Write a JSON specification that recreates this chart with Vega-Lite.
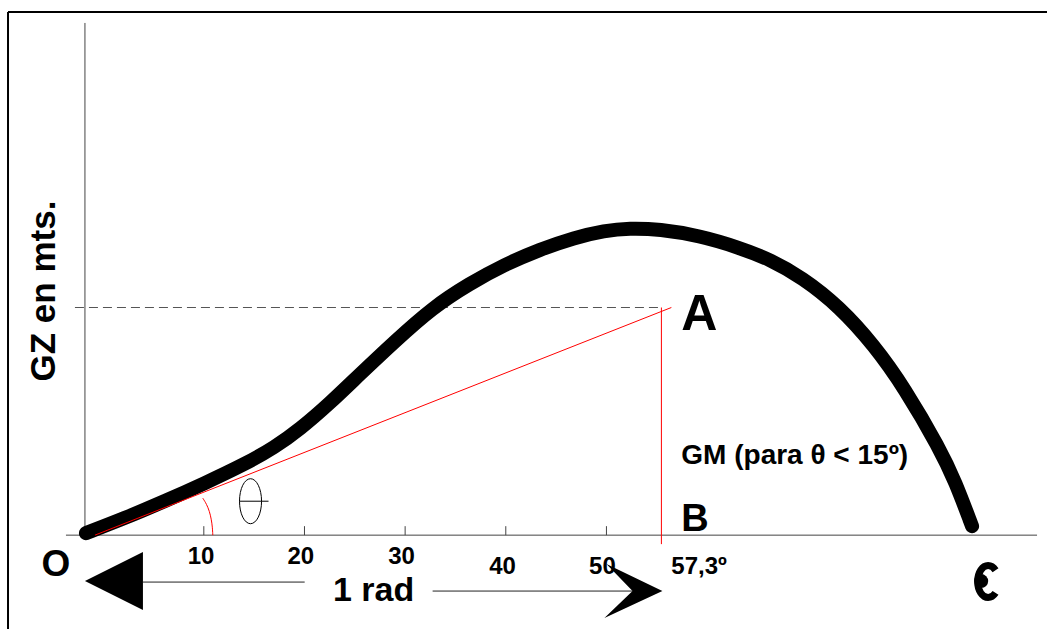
{
  "$schema": "https://vega.github.io/schema/vega-lite/v6.json",
  "width": 1048,
  "height": 630,
  "autosize": {"type": "fit", "contains": "padding"},
  "padding": 0,
  "background": "white",
  "config": {"view": {"stroke": null}, "font": "Liberation Sans"},
  "datasets": {
    "lines": [
      {"kind": "frame", "deg": -9.454, "deg2": -9.454, "gz": 2.62, "gz2": -0.47},
      {"kind": "frame", "deg": -9.454, "deg2": 93.77, "gz": 2.62, "gz2": 2.62},
      {"kind": "axis", "deg": -1.811, "deg2": -1.811, "gz": 2.565, "gz2": -0.005},
      {"kind": "axis", "deg": -3.697, "deg2": 92.78, "gz": 0, "gz2": 0},
      {"kind": "axis", "deg": 10, "deg2": 10, "gz": 0, "gz2": 0.045},
      {"kind": "axis", "deg": 20, "deg2": 20, "gz": 0, "gz2": 0.045},
      {"kind": "axis", "deg": 30, "deg2": 30, "gz": 0, "gz2": 0.045},
      {"kind": "axis", "deg": 40, "deg2": 40, "gz": 0, "gz2": 0.045},
      {"kind": "axis", "deg": 50, "deg2": 50, "gz": 0, "gz2": 0.045},
      {"kind": "red", "deg": -0.819, "deg2": 56.45, "gz": 0, "gz2": 1.14},
      {"kind": "red", "deg": 55.46, "deg2": 55.46, "gz": 1.14, "gz2": -0.045},
      {"kind": "dash", "deg": -2.804, "deg2": 55.46, "gz": 1.14, "gz2": 1.14},
      {"kind": "arrow", "deg": 3.95, "deg2": 20.02, "gz": -0.235, "gz2": -0.235},
      {"kind": "arrow", "deg": 32.73, "deg2": 53.3, "gz": -0.28, "gz2": -0.28}
    ],
    "curve": [
      {"deg": -1.712, "gz": 0.01},
      {"deg": 2.159, "gz": 0.085},
      {"deg": 6.129, "gz": 0.17},
      {"deg": 10.099, "gz": 0.26},
      {"deg": 14.07, "gz": 0.355},
      {"deg": 17.047, "gz": 0.44},
      {"deg": 19.529, "gz": 0.53},
      {"deg": 22.506, "gz": 0.66},
      {"deg": 25.484, "gz": 0.805},
      {"deg": 28.958, "gz": 0.97},
      {"deg": 32.729, "gz": 1.14},
      {"deg": 36.402, "gz": 1.26},
      {"deg": 39.876, "gz": 1.355},
      {"deg": 43.35, "gz": 1.43},
      {"deg": 46.824, "gz": 1.49},
      {"deg": 49.801, "gz": 1.525},
      {"deg": 52.283, "gz": 1.5375},
      {"deg": 55.261, "gz": 1.5325},
      {"deg": 59.231, "gz": 1.5},
      {"deg": 63.201, "gz": 1.44},
      {"deg": 66.179, "gz": 1.3825},
      {"deg": 69.454, "gz": 1.29},
      {"deg": 73.127, "gz": 1.145},
      {"deg": 76.6, "gz": 0.95},
      {"deg": 79.578, "gz": 0.74},
      {"deg": 83.151, "gz": 0.43},
      {"deg": 84.64, "gz": 0.27},
      {"deg": 86.328, "gz": 0.045}
    ],
    "arc": [
      {"i": 0, "deg": 10.893, "gz": 0},
      {"i": 1, "deg": 10.854, "gz": 0.04},
      {"i": 2, "deg": 10.744, "gz": 0.08},
      {"i": 3, "deg": 10.556, "gz": 0.12},
      {"i": 4, "deg": 10.278, "gz": 0.155},
      {"i": 5, "deg": 9.901, "gz": 0.185}
    ],
    "labels": [
      {"kind": "tick", "t": "10", "deg": 9.73, "gz": -0.145},
      {"kind": "tick", "t": "20", "deg": 19.63, "gz": -0.145},
      {"kind": "tick", "t": "30", "deg": 29.65, "gz": -0.145},
      {"kind": "tick", "t": "40", "deg": 39.68, "gz": -0.195},
      {"kind": "tick", "t": "50", "deg": 49.6, "gz": -0.195},
      {"kind": "rad", "t": "57,3º", "deg": 56.45, "gz": -0.195},
      {"kind": "O", "t": "O", "deg": -4.69, "gz": -0.205},
      {"kind": "onerad", "t": "1 rad", "deg": 26.87, "gz": -0.33},
      {"kind": "A", "t": "A", "deg": 57.44, "gz": 1.025},
      {"kind": "B", "t": "B", "deg": 57.44, "gz": 0.02},
      {"kind": "GM", "t": "GM (para θ < 15º)", "deg": 57.44, "gz": 0.355},
      {"kind": "ytitle", "t": "GZ en mts.", "deg": -4.789, "gz": 1.2225}
    ],
    "symbols": [
      {"kind": "leftHead", "deg": 1.067, "gz": -0.23},
      {"kind": "rightHead", "deg": 52.68, "gz": -0.28},
      {"kind": "theta", "deg": 14.64, "gz": 0.17},
      {"kind": "epsC", "deg": 87.92, "gz": -0.2325},
      {"kind": "epsDot", "deg": 87.23, "gz": -0.23}
    ]
  },
  "encoding": {
    "x": {"field": "deg", "type": "quantitative", "axis": null, "scale": {"domain": [-10.25, 93.77], "nice": false, "zero": false}},
    "y": {"field": "gz", "type": "quantitative", "axis": null, "scale": {"domain": [-0.47, 2.68], "nice": false, "zero": false}}
  },
  "layer": [
    {
      "data": {"name": "lines"},
      "transform": [{"filter": "datum.kind === 'frame'"}],
      "mark": {"type": "rule", "color": "black", "strokeWidth": 2},
      "encoding": {"x2": {"field": "deg2"}, "y2": {"field": "gz2"}}
    },
    {
      "data": {"name": "lines"},
      "transform": [{"filter": "datum.kind === 'axis'"}],
      "mark": {"type": "rule", "color": "#444444", "strokeWidth": 1},
      "encoding": {"x2": {"field": "deg2"}, "y2": {"field": "gz2"}}
    },
    {
      "data": {"name": "lines"},
      "transform": [{"filter": "datum.kind === 'dash'"}],
      "mark": {"type": "rule", "color": "#555555", "strokeWidth": 1, "strokeDash": [9, 5]},
      "encoding": {"x2": {"field": "deg2"}, "y2": {"field": "gz2"}}
    },
    {
      "data": {"name": "lines"},
      "transform": [{"filter": "datum.kind === 'arrow'"}],
      "mark": {"type": "rule", "color": "#222222", "strokeWidth": 1},
      "encoding": {"x2": {"field": "deg2"}, "y2": {"field": "gz2"}}
    },
    {
      "data": {"name": "curve"},
      "mark": {"type": "line", "color": "black", "strokeWidth": 14, "strokeCap": "round", "strokeJoin": "round", "interpolate": "basis"}
    },
    {
      "data": {"name": "lines"},
      "transform": [{"filter": "datum.kind === 'red'"}],
      "mark": {"type": "rule", "color": "#ff0000", "strokeWidth": 1},
      "encoding": {"x2": {"field": "deg2"}, "y2": {"field": "gz2"}}
    },
    {
      "data": {"name": "arc"},
      "mark": {"type": "line", "color": "#ff0000", "strokeWidth": 1, "interpolate": "basis"},
      "encoding": {"order": {"field": "i", "type": "quantitative"}}
    },
    {
      "data": {"name": "symbols"},
      "transform": [{"filter": "datum.kind === 'leftHead'"}],
      "mark": {"type": "point", "shape": "M -1 0 L 1 -1 L 1 1 Z", "size": 3364, "filled": true, "color": "black", "opacity": 1, "strokeWidth": 0}
    },
    {
      "data": {"name": "symbols"},
      "transform": [{"filter": "datum.kind === 'rightHead'"}],
      "mark": {"type": "point", "shape": "M 1 0 L -0.93 -0.93 L -0.03 0 L -1 0.93 Z", "size": 3364, "filled": true, "color": "black", "opacity": 1, "strokeWidth": 0}
    },
    {
      "data": {"name": "symbols"},
      "transform": [{"filter": "datum.kind === 'theta'"}],
      "mark": {"type": "point", "shape": "M 0 -1 A 0.49 1 0 1 0 0 1 A 0.49 1 0 1 0 0 -1 M -0.49 0 L 0.8 0", "size": 2025, "filled": false, "color": "black", "opacity": 1, "strokeWidth": 1}
    },
    {
      "data": {"name": "symbols"},
      "transform": [{"filter": "datum.kind === 'epsC'"}],
      "mark": {"type": "point", "shape": "M 0.371 -0.566 A 0.525 0.8 0 1 0 0.371 0.566", "size": 1600, "filled": false, "color": "black", "opacity": 1, "strokeWidth": 7}
    },
    {
      "data": {"name": "symbols"},
      "transform": [{"filter": "datum.kind === 'epsDot'"}],
      "mark": {"type": "point", "shape": "circle", "size": 196, "filled": true, "color": "black", "opacity": 1}
    },
    {
      "data": {"name": "labels"},
      "transform": [{"filter": "datum.kind === 'tick'"}],
      "mark": {"type": "text", "fontSize": 24, "fontWeight": "bold", "align": "center", "baseline": "alphabetic", "color": "black"},
      "encoding": {"text": {"field": "t"}}
    },
    {
      "data": {"name": "labels"},
      "transform": [{"filter": "datum.kind === 'rad'"}],
      "mark": {"type": "text", "fontSize": 24, "fontWeight": "bold", "align": "left", "baseline": "alphabetic", "color": "black"},
      "encoding": {"text": {"field": "t"}}
    },
    {
      "data": {"name": "labels"},
      "transform": [{"filter": "datum.kind === 'O'"}],
      "mark": {"type": "text", "fontSize": 37, "fontWeight": "bold", "align": "center", "baseline": "alphabetic", "color": "black"},
      "encoding": {"text": {"field": "t"}}
    },
    {
      "data": {"name": "labels"},
      "transform": [{"filter": "datum.kind === 'onerad'"}],
      "mark": {"type": "text", "fontSize": 34, "fontWeight": "bold", "align": "center", "baseline": "alphabetic", "color": "black"},
      "encoding": {"text": {"field": "t"}}
    },
    {
      "data": {"name": "labels"},
      "transform": [{"filter": "datum.kind === 'A'"}],
      "mark": {"type": "text", "fontSize": 50, "fontWeight": "bold", "align": "left", "baseline": "alphabetic", "color": "black"},
      "encoding": {"text": {"field": "t"}}
    },
    {
      "data": {"name": "labels"},
      "transform": [{"filter": "datum.kind === 'B'"}],
      "mark": {"type": "text", "fontSize": 38, "fontWeight": "bold", "align": "left", "baseline": "alphabetic", "color": "black"},
      "encoding": {"text": {"field": "t"}}
    },
    {
      "data": {"name": "labels"},
      "transform": [{"filter": "datum.kind === 'GM'"}],
      "mark": {"type": "text", "fontSize": 28, "fontWeight": "bold", "align": "left", "baseline": "alphabetic", "color": "black"},
      "encoding": {"text": {"field": "t"}}
    },
    {
      "data": {"name": "labels"},
      "transform": [{"filter": "datum.kind === 'ytitle'"}],
      "mark": {"type": "text", "fontSize": 35, "fontWeight": "bold", "align": "center", "baseline": "alphabetic", "angle": 270, "color": "black"},
      "encoding": {"text": {"field": "t"}}
    }
  ]
}
